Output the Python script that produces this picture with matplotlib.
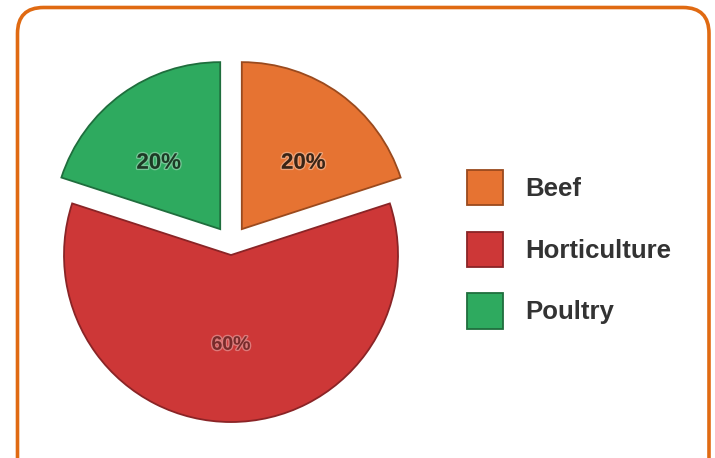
import matplotlib
matplotlib.use("Agg")
import numpy as np
import matplotlib.pyplot as plt
import matplotlib.patheffects as pe
from matplotlib.patches import FancyBboxPatch

# data
categories = ["Beef", "Horticulture", "Poultry"]
shares = [20, 60, 20]
colors = ["#E67332", "#CD3737", "#2EAA5F"]
edge_colors = ["#9A4A1E", "#8A2426", "#1F6E3D"]
label_colors = ["#3B2414", "#7A2A2A", "#1C3B25"]
explode = [0.11, 0.066, 0.11]

W, H = 715, 458
fig = plt.figure(figsize=(W / 100, H / 100), dpi=100)

# background layer in pixel units, holds the rounded orange frame
bg = fig.add_axes([0, 0, 1, 1])
bg.set_xlim(0, W)
bg.set_ylim(H, 0)
bg.axis("off")
bg.add_patch(FancyBboxPatch((17.5, 7.5), 691.5, 500,
                            boxstyle="round,pad=0,rounding_size=26",
                            fc="white", ec="#E06A12", lw=2.6))

# pie axes: centre and radius in pixels, top of the pie gets cut off
cx, cy, r = 231, 244, 167
left, top, right, bottom = 30, 64, 440, 458
ax = fig.add_axes([left / W, 1 - bottom / H, (right - left) / W, (bottom - top) / H])

wedges, texts, autotexts = ax.pie(
    shares, colors=colors, explode=explode, startangle=90, counterclock=False,
    autopct="%d%%", pctdistance=0.54,
    wedgeprops=dict(linewidth=1.3),
    textprops=dict(family="Liberation Sans", weight="bold", fontsize=16),
)
for w, ec in zip(wedges, edge_colors):
    w.set_edgecolor(ec)
for t, c in zip(autotexts, label_colors):
    t.set_color(c)
    t.set_path_effects([pe.withStroke(linewidth=2, foreground="#ffffff55")])
autotexts[1].set_fontsize(14)

# the two small slices have their labels pushed a bit towards the sides
for i, shift in [(0, -7), (2, 7)]:
    w = wedges[i]
    mid = np.deg2rad((w.theta1 + w.theta2) / 2 + shift)
    autotexts[i].set_position((w.center[0] + 0.54 * np.cos(mid),
                               w.center[1] + 0.54 * np.sin(mid)))

ax.set_xlim((left - cx) / r, (right - cx) / r)
ax.set_ylim((cy - bottom) / r, (cy - top) / r)
ax.set_aspect("auto")
ax.axis("off")

fig.legend(wedges, categories, loc="upper left",
           bbox_to_anchor=(467 / W, 1 - 170 / H), frameon=False,
           prop=dict(family="Liberation Sans", weight="bold", size=18.5),
           labelcolor="#333333", handlelength=1.4, handleheight=1.72,
           handletextpad=0.85, labelspacing=1.04, borderpad=0, borderaxespad=0)

fig.savefig("out.png", dpi=100)
